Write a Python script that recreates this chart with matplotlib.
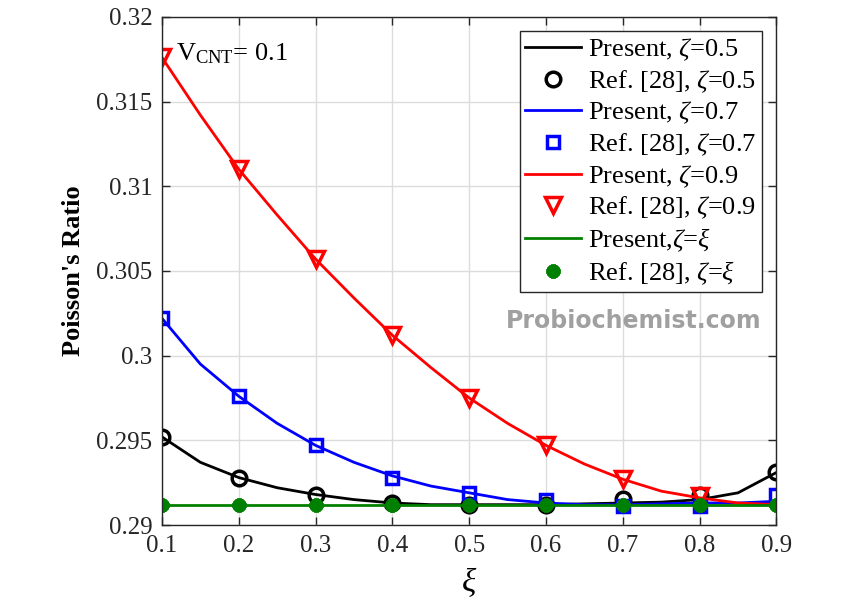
import matplotlib
matplotlib.use("Agg")
import matplotlib.pyplot as plt

plt.rcParams["font.family"] = ["Liberation Serif", "DejaVu Serif"]
plt.rcParams["mathtext.fontset"] = "custom"
plt.rcParams["mathtext.rm"] = "Liberation Serif"
plt.rcParams["mathtext.it"] = "Liberation Serif:italic"

# Curvas "Present" (leidas cada 0.05)
xi_fino = [0.1, 0.15, 0.2, 0.25, 0.3, 0.35, 0.4, 0.45, 0.5,
           0.55, 0.6, 0.65, 0.7, 0.75, 0.8, 0.85, 0.9]
pres_05 = [0.2952, 0.2937, 0.2928, 0.2922, 0.2918, 0.2915, 0.2913, 0.2912, 0.2912,
           0.2912, 0.2912, 0.29125, 0.2913, 0.29135, 0.2915, 0.2919, 0.2931]
pres_07 = [0.3022, 0.2995, 0.2976, 0.2960, 0.2947, 0.2937, 0.2929, 0.2923, 0.2919,
           0.2915, 0.2913, 0.2912, 0.2912, 0.29125, 0.2913, 0.2913, 0.2914]
pres_09 = [0.3176, 0.3142, 0.3110, 0.3083, 0.3057, 0.3034, 0.3012, 0.2993, 0.2975,
           0.2960, 0.2947, 0.2936, 0.2927, 0.2920, 0.2916, 0.2913, 0.2912]
pres_xi = [0.2912] * len(xi_fino)

# Puntos de la Ref. [28]
xi_ref = [0.1, 0.2, 0.3, 0.4, 0.5, 0.6, 0.7, 0.8, 0.9]
ref_05 = [0.2952, 0.2928, 0.2918, 0.2913, 0.2912, 0.2912, 0.29154, 0.29177, 0.2931]
ref_07 = [0.3022, 0.2976, 0.2947, 0.2928, 0.2919, 0.2915, 0.2911, 0.2911, 0.2918]
xi_ref_09 = [0.1, 0.2, 0.3, 0.4, 0.5, 0.6, 0.7, 0.8]
ref_09 = [0.3176, 0.3110, 0.3057, 0.3012, 0.2975, 0.2947, 0.2927, 0.2917]
ref_xi = [0.2912] * len(xi_ref)

fig = plt.figure(figsize=(8.57, 6.0), dpi=100)
ax = fig.add_axes([0.189, 0.125, 0.717, 0.847])

ax.plot(xi_fino, pres_05, color="black", lw=2, label=r"Present, $\zeta$=0.5")
ax.plot(xi_ref, ref_05, ls="none", marker="o", ms=10.5, mfc="none", mec="black",
        mew=2.5, label=r"Ref. [28], $\zeta$=0.5")
ax.plot(xi_fino, pres_07, color="#0000ff", lw=2, label=r"Present, $\zeta$=0.7")
ax.plot(xi_ref, ref_07, ls="none", marker="s", ms=8, mfc="none", mec="#0000ff",
        mew=2.5, label=r"Ref. [28], $\zeta$=0.7")
ax.plot(xi_fino, pres_09, color="#ff0000", lw=2, label=r"Present, $\zeta$=0.9")
ax.plot(xi_ref_09, ref_09, ls="none", marker="v", ms=12, mfc="none", mec="#ff0000",
        mew=2.5, label=r"Ref. [28], $\zeta$=0.9")
ax.plot(xi_fino, pres_xi, color="#008000", lw=2, label=r"Present,$\zeta$=$\xi$")
ax.plot(xi_ref, ref_xi, ls="none", marker=(8, 2, 0), ms=10, mfc="#008000",
        mec="#008000", mew=3.5, label=r"Ref. [28], $\zeta$=$\xi$")

ax.set_xlim(0.1, 0.9)
ax.set_ylim(0.29, 0.32)
ax.set_xticks(xi_ref)
ax.set_xticklabels(["0.1", "0.2", "0.3", "0.4", "0.5", "0.6", "0.7", "0.8", "0.9"])
ax.set_yticks([0.29, 0.295, 0.3, 0.305, 0.31, 0.315, 0.32])
ax.set_yticklabels(["0.29", "0.295", "0.3", "0.305", "0.31", "0.315", "0.32"])
ax.tick_params(direction="in", top=True, right=True, labelsize=18, length=6,
               width=1, color="#262626", labelcolor="#262626", pad=7)
ax.grid(True, color="#dcdcdc", lw=1)
for s in ax.spines.values():
    s.set_color("#262626")
    s.set_linewidth(1)

ax.set_xlabel(r"$\xi$", fontsize=24, labelpad=6)
ax.set_ylabel("Poisson's Ratio", fontsize=19, fontweight="bold", labelpad=8)

ax.text(0.118, 0.3178, r"V$_{\mathrm{CNT}}$= 0.1", fontsize=19, ha="left", va="center")

ax.legend(loc="upper right", fontsize=19, frameon=True, fancybox=False,
          edgecolor="#262626", framealpha=1, labelspacing=0.2, handlelength=2.1,
          handletextpad=0.3, borderpad=0.2, borderaxespad=0.55)

fig.text(0.74, 0.465, "Probiochemist.com", fontsize=17, fontweight="bold",
         color="#a0a0a0", family="DejaVu Sans", ha="center", va="center")

fig.savefig("out.png", dpi=100)
